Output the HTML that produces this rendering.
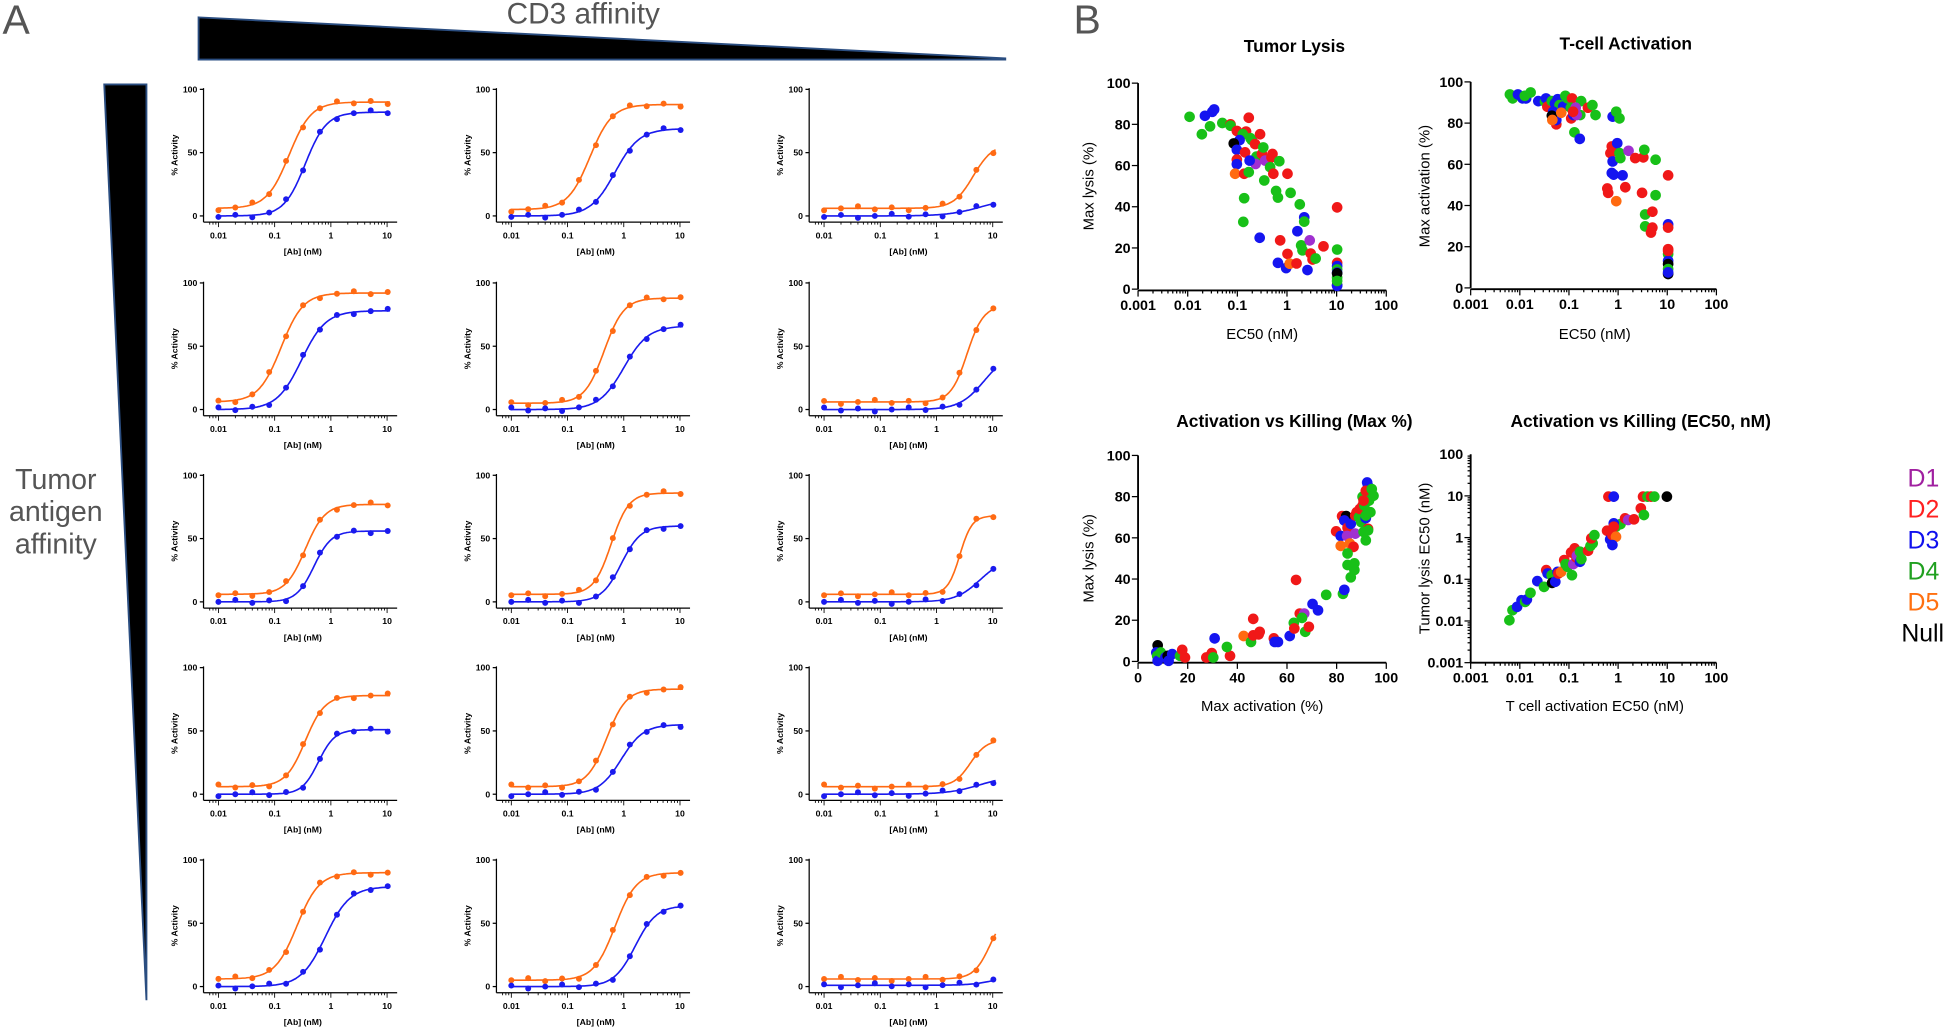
<!DOCTYPE html>
<html><head><meta charset="utf-8"><style>
html,body{margin:0;padding:0;background:#fff;}
svg{display:block;}
text{font-family:"Liberation Sans",sans-serif;}
.tk{font-size:7px;font-weight:bold;font-family:"Liberation Sans Narrow","Liberation Sans",sans-serif;}
.bt{font-size:11.5px;font-weight:bold;}
.bl{font-size:12px;}
.ti{font-size:14px;font-weight:bold;}
</style></head><body>
<svg id="s" width="1946" height="1030" viewBox="0 0 1568 830" preserveAspectRatio="none" xmlns="http://www.w3.org/2000/svg">
<text x="2" y="27" font-size="33" fill="#555">A</text>
<text x="865" y="27" font-size="33" fill="#555">B</text>
<polygon points="160,14 810,47 810,48 160,48" fill="#000" stroke="#2a4d80" stroke-width="1.5"/>
<text x="470" y="19" font-size="24" fill="#555" text-anchor="middle">CD3 affinity</text>
<polygon points="84,68 118,68 118,806" fill="#000" stroke="#2a4d80" stroke-width="1.5"/>
<text x="45" y="394" font-size="23" fill="#555" text-anchor="middle">Tumor</text>
<text x="45" y="420" font-size="23" fill="#555" text-anchor="middle">antigen</text>
<text x="45" y="446" font-size="23" fill="#555" text-anchor="middle">affinity</text>
<text x="1043" y="42" class="ti" text-anchor="middle">Tumor Lysis</text>
<text x="1310" y="40" class="ti" text-anchor="middle">T-cell Activation</text>
<text x="1043" y="344" class="ti" text-anchor="middle">Activation vs Killing (Max %)</text>
<text x="1322" y="344" class="ti" text-anchor="middle">Activation vs Killing (EC50, nM)</text>
<text x="1017" y="273" class="bl" text-anchor="middle">EC50 (nM)</text>
<text x="1285" y="273" class="bl" text-anchor="middle">EC50 (nM)</text>
<text x="1017" y="573" class="bl" text-anchor="middle">Max activation (%)</text>
<text x="1285" y="573" class="bl" text-anchor="middle">T cell activation EC50 (nM)</text>
<text transform="translate(881,150) rotate(-90)" class="bl" text-anchor="middle">Max lysis (%)</text>
<text transform="translate(1152,150) rotate(-90)" class="bl" text-anchor="middle">Max activation (%)</text>
<text transform="translate(881,450) rotate(-90)" class="bl" text-anchor="middle">Max lysis (%)</text>
<text transform="translate(1152,450) rotate(-90)" class="bl" text-anchor="middle">Tumor lysis EC50 (nM)</text>
<text x="1537" y="392" font-size="20" fill="#a020a0">D1</text>
<text x="1537" y="417" font-size="20" fill="#ff2020">D2</text>
<text x="1537" y="442" font-size="20" fill="#1010ee">D3</text>
<text x="1537" y="467" font-size="20" fill="#20a020">D4</text>
<text x="1537" y="492" font-size="20" fill="#ff7010">D5</text>
<text x="1532" y="517" font-size="20" fill="#000">Null</text>
<g id="g"></g>
</svg>
<script>
var g=document.getElementById('g'),NS='http://www.w3.org/2000/svg',out='';
function L(x1,y1,x2,y2,w,c){out+='<line x1="'+x1+'" y1="'+y1+'" x2="'+x2+'" y2="'+y2+'" stroke="'+(c||'#000')+'" stroke-width="'+(w||1)+'"/>';}
function T(x,y,s,cls,a){out+='<text x="'+x+'" y="'+y+'" class="'+cls+'" text-anchor="'+(a||'middle')+'">'+s+'</text>';}
function C(x,y,r,c){out+='<circle cx="'+x.toFixed(1)+'" cy="'+y.toFixed(1)+'" r="'+r+'" fill="'+c+'"/>';}
var OR='#ff6a13',BL='#1a1aee';
var P=[
[[90,6,0.18,2.2],[82,0,0.35,2.3],[88,5,0.25,2.2],[69,0,0.7,2],[57,6,4.5,2.5],[14,0,6,1.5]],
[[92,6,0.13,2.2],[78,0,0.3,2],[88,5,0.45,2.5],[66,0,1.0,2],[82,6,3.5,3],[45,0,7,2]],
[[77,6,0.35,2.5],[56,0,0.5,2.8],[86,6,0.6,2.8],[60,0,0.9,2.5],[68,6,2.6,4],[35,0,6,2]],
[[78,6,0.35,2.5],[51,0,0.6,3],[83,6,0.5,2.5],[55,0,0.9,2.2],[43,6,4,3],[15,0,6,1.5]],
[[90,6,0.25,2.2],[79,0,0.8,2],[90,5,0.7,2.3],[64,0,1.6,2.3],[60,6,9,3],[10,1,12,2]]];
var cols=[0,236,488],rows=[0,156,311,466,621];
for(var r=0;r<5;r++)for(var c=0;c<3;c++){
 var ox=cols[c],oy=rows[r];
 var X=function(v){return 176+(Math.log10(v)+2)*45.3+ox;};
 var Y=function(v){return 72+oy+(100-v)*1.02;};
 L(164+ox,71+oy,164+ox,179+oy,1);L(164+ox,179+oy,320+ox,179+oy,1);
 [0,50,100].forEach(function(v){L(161+ox,Y(v),164+ox,Y(v));T(159+ox,Y(v)+2.5,v,'tk','end');});
 for(var d=-3;d<=1;d++)for(var m=1;m<10;m++){var xv=m*Math.pow(10,d),xx=X(xv);if(xx<166+ox||xx>320+ox)continue;L(xx,179+oy,xx,179+oy+(m==1?4:2),0.7);}
 ['0.01','0.1','1','10'].forEach(function(s){T(X(+s),192+oy,s,'tk');});
 T(244+ox,205+oy,'[Ab] (nM)','tk');
 out+='<text transform="translate('+(143+ox)+','+(125+oy)+') rotate(-90)" class="tk" text-anchor="middle">% Activity</text>';
 for(var s=0;s<2;s++){
  var p=P[r][c*2+s],col=s?BL:OR,t=p[0],b=p[1],ec=p[2],h=p[3];
  var f=function(x){return b+(t-b)/(1+Math.pow(ec/x,h));};
  var d='';for(var i=0;i<=120;i++){var lx=-2+i*3.05/120,xv=Math.pow(10,lx);d+=(i?'L':'M')+X(xv).toFixed(1)+','+Y(f(xv)).toFixed(1);}
  out+='<path d="'+d+'" fill="none" stroke="'+col+'" stroke-width="1.3"/>';
  for(var k=0;k<11;k++){var xv=0.01*Math.pow(2,k),n=((k*7+r*3+c*5+s)%5-2)*0.8;C(X(xv),Y(f(xv)+n),2.4,col);}
 }
}
// Panel B axes
function logAxisX(x0,y0,pd,dec,lab){L(x0,y0,x0+pd*dec,y0,1.5);for(var d=0;d<dec;d++){for(var m=1;m<10;m++){var xx=x0+(d+Math.log10(m))*pd;L(xx,y0,xx,y0+(m==1?5:2.5),1);}}L(x0+pd*dec,y0,x0+pd*dec,y0+5,1);lab.forEach(function(s,i){T(x0+i*pd,y0+16,s,'bt');});}
function linAxisY(x0,y0,y1,lab){L(x0,y0,x0,y1,1.5);var n=lab.length-1;lab.forEach(function(s,i){var yy=y0+(y1-y0)*i/n;L(x0-5,yy,x0,yy,1);T(x0-6,yy+4,s,'bt','end');});}
var LX=['0.001','0.01','0.1','1','10','100'];
logAxisX(917,234,40,5,LX);linAxisY(917,233,67,['0','20','40','60','80','100']);
logAxisX(1185,233,39.6,5,LX);linAxisY(1185,232,66,['0','20','40','60','80','100']);
L(917,534,1117,534,1.5);['0','20','40','60','80','100'].forEach(function(s,i){var xx=917+i*40;L(xx,534,xx,539,1);T(xx,550,s,'bt');});
linAxisY(917,533,367,['0','20','40','60','80','100']);
logAxisX(1185,534,39.6,5,LX);
L(1185,534,1185,366,1.5);for(var d=0;d<5;d++)for(var m=1;m<10;m++){var yy=534-(d+Math.log10(m))*33.6;L(1185-(m==1?5:2.5),yy,1185,yy,1);}
LX.forEach(function(s,i){T(1179,534-i*33.6+4,s,'bt','end');});
var CM={r:'#f01818',b:'#1515f0',g:'#18c018',o:'#ff6a10',p:'#a030d0',k:'#000'};
function pts(str,fx,fy){str.split(';').forEach(function(q){q=q.trim().split(/[ ,]+/);C(fx(+q[1]),fy(+q[2]),4.3,CM[q[0]]);});}
pts('g 268,347;b 302,344;b 318,332;b 322,325;g 295,400;g 313,376;g 340,366;r 358,370;g 358,374;r 372,390;r 392,392;r 398,350;g 385,400;b 378,418;k 365,428;b 372,447;r 372,477;b 372,491;o 368,520;r 390,455;r 388,520;g 402,412;g 405,418;r 412,430;r 423,400;g 415,468;r 427,460;p 413,490;p 434,480;g 430,440;b 400,480;g 398,515;r 450,460;r 448,470;g 445,500;r 452,520;g 465,482;g 432,540;g 458,572;g 462,592;g 490,578;r 483,520;g 510,613;g 388,594;g 386,666;b 422,714;b 520,652;b 505,694;g 520,665;r 467,722;b 462,790;b 480,806;r 483,763;o 488,793;r 503,792;g 513,737;g 516,752;p 532,722;r 534,762;r 538,780;b 527,812;r 562,740;g 545,777;r 592,622;g 592,750;r 592,790;b 592,800;g 592,810;b 592,820;g 592,835;k 592,822;k 592,858;b 592,860;g 592,845',
 function(x){return 917+(x-155)/545*200;},function(y){return 233-(870-y)/625*166;});
pts('g 962,278;g 968,290;b 980,278;b 990,290;b 998,290;g 995,282;g 1008,272;b 1025,298;g 1040,300;b 1042,290;r 1045,315;g 1055,298;b 1068,292;b 1062,305;g 1072,310;b 1080,315;b 1058,330;r 1065,368;b 1065,355;k 1055,342;o 1056,355;o 1076,333;g 1085,282;g 1090,290;r 1100,290;r 1098,350;g 1097,318;b 1103,340;g 1120,298;g 1118,340;p 1108,318;p 1110,340;r 1102,330;g 1105,392;b 1117,412;r 1135,318;g 1145,310;g 1152,340;b 1190,345;g 1198,330;g 1205,350;r 1188,435;r 1185,455;b 1190,480;b 1188,515;b 1192,520;b 1200,425;g 1205,455;g 1207,470;p 1225,448;b 1212,522;r 1240,470;r 1258,468;g 1260,445;r 1178,562;r 1180,575;o 1198,600;r 1218,558;r 1255,575;g 1285,475;g 1285,582;g 1262,640;g 1262,676;r 1278,632;r 1278,680;r 1275,695;r 1313,522;b 1313,670;r 1313,680;r 1313,745;g 1313,760;b 1313,780;k 1313,790;g 1313,805;k 1313,820;b 1313,815;r 1313,750',
 function(x){return 1185+(x-875)/545*198;},function(y){return 232-(862-y)/622*166;});
pts('k 198,768;b 195,790;g 197,800;b 198,815;g 205,790;b 215,805;k 220,800;b 222,815;b 230,795;g 247,800;r 252,782;r 258,805;r 305,805;r 317,792;g 320,805;b 323,747;r 357,800;g 350,773;o 387,740;g 403,758;r 408,688;r 408,738;r 420,735;r 422,727;r 453,747;b 455,758;b 462,758;b 488,740;g 497,700;r 498,717;r 502,570;r 510,672;p 520,672;g 515,685;g 522,727;r 530,712;b 538,643;b 550,662;g 568,615;g 605,612;b 608,600;r 590,423;b 600,437;r 603,377;k 612,377;b 608,390;r 615,412;p 614,437;o 600,467;o 620,460;r 628,470;g 615,490;g 615,525;g 622,562;g 630,520;g 630,540;b 622,400;r 632,375;r 635,365;p 632,430;g 640,380;r 642,355;g 645,395;r 648,345;g 648,318;b 655,383;g 652,345;g 655,375;r 660,415;g 660,420;g 655,450;g 650,425;b 658,275;b 660,285;r 655,300;g 662,330;g 668,295;g 672,315;g 665,365;r 650,330',
 function(x){return 917+(x-155)/545*200;},function(y){return 533-(817-y)/624*166;});
pts('g 983,690;g 990,660;b 1000,650;b 1010,630;g 1018,635;b 1022,628;g 1030,608;b 1045,573;g 1060,590;r 1065,540;b 1068,550;g 1077,555;k 1078,578;b 1085,575;b 1090,545;r 1092,550;o 1098,545;r 1105,510;g 1108,522;g 1112,530;r 1120,487;g 1122,555;p 1125,522;r 1128,475;r 1132,502;p 1133,497;g 1140,485;b 1140,515;g 1143,507;r 1158,482;g 1163,468;g 1168,460;r 1165,445;g 1172,435;r 1200,422;b 1207,448;r 1212,435;g 1220,410;g 1230,402;b 1215,400;r 1215,410;o 1220,440;b 1212,465;r 1240,385;p 1247,390;r 1260,388;r 1275,355;g 1282,375;r 1203,320;b 1215,320;r 1280,320;g 1290,320;r 1298,320;g 1305,320;k 1333,320',
 function(x){return 1185+(x-897)/546*198;},function(y){return 366+(y-193)/624*168;});
g.innerHTML=out;
</script>
</body></html>
